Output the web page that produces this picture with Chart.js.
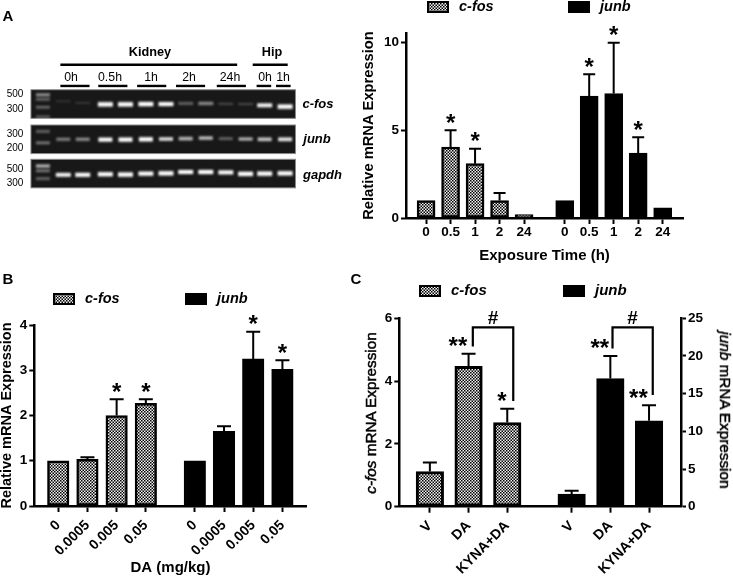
<!DOCTYPE html>
<html>
<head>
<meta charset="utf-8">
<title>c-fos and junb expression</title>
<script src="https://cdn.jsdelivr.net/npm/chart.js@4"></script>
<style>
    html, body { margin: 0; padding: 0; background: #fff; }
    #page { position: relative; width: 733px; height: 576px; overflow: hidden; font-family: "Liberation Sans", Arial, sans-serif; color: #000; filter: blur(0.35px); }
    canvas { position: absolute; }
    .lbl { position: absolute; white-space: nowrap; transform: translate(-50%, -50%); }
</style>
</head>
<body>
<div id="page">
    <canvas id="gel" width="350" height="210" style="left:0;top:0"></canvas>
    <canvas id="chartA" width="383" height="270" style="left:350px;top:0"></canvas>
    <canvas id="chartB" width="350" height="306" style="left:0;top:270px"></canvas>
    <canvas id="chartC" width="383" height="306" style="left:350px;top:270px"></canvas>
</div>
<script>
/* ---------------- PANEL A DATA ---------------- */
const timeLabels = ["0", "0.5", "1", "2", "24"];
const aCfos = [1, 4.05, 3.1, 1, 0.2];
const aCfosTop = [null, 5, 3.95, 1.42, null];
const aCfosStars = ["", "*", "*", "", ""];
const aJunb = [1, 6.95, 7.1, 3.7, 0.58];
const aJunbTop = [null, 8.2, 10, 4.6, null];
const aJunbStars = ["", "*", "*", "*", ""];

/* ---------------- PANEL B DATA ---------------- */
const doseLabels = ["0", "0.0005", "0.005", "0.05"];
const bCfos = [1, 1.03, 2, 2.27];
const bCfosTop = [null, 1.08, 2.36, 2.36];
const bCfosStars = ["", "", "*", "*"];
const bJunb = [1, 1.65, 3.25, 3.02];
const bJunbTop = [null, 1.76, 3.85, 3.22];
const bJunbStars = ["", "", "*", "*"];

/* ---------------- PANEL C DATA ---------------- */
const treatLabels = ["V", "DA", "KYNA+DA"];
const cCfos = [1.12, 4.47, 2.68];
const cCfosTop = [1.41, 4.87, 3.12];
const cCfosStars = ["", "**", "*"];
const cJunb = [1.68, 17, 11.4];
const cJunbTop = [2.1, 20, 13.45];
const cJunbStars = ["", "**", "**"];
const cBracketLeft = [[1.11, 5.1], [1.11, 5.71], [2.155, 5.71], [2.155, 3.37]];
const cBracketRight = [[4.72, 5.04], [4.72, 5.71], [5.76, 5.71], [5.76, 3.56]];

/* ---------------- GEL DATA ---------------- */
const laneX = [60, 80, 103.3, 124, 145, 165.7, 186, 206.7, 227.3, 247.7, 267.3, 288.3];
const cfosBandY = [101, 102.7, 104.3, 104.3, 104, 104, 103.3, 103.3, 103.7, 104, 105.3, 106.7];
const cfosBright = [0.12, 0.14, 1, 1, 1, 0.9, 0.35, 0.5, 0.2, 0.2, 0.85, 1];
const junbBandY = [141, 141, 141.3, 141.3, 141, 140.7, 140.3, 139.7, 140.3, 140.7, 141, 141];
const junbBright = [0.45, 0.5, 0.9, 0.95, 0.95, 0.75, 0.65, 0.65, 0.35, 0.6, 0.7, 0.8];
const gapdhBandY = [178.3, 178.3, 177.7, 178, 177, 176.7, 175.3, 175.3, 175.7, 177.3, 177, 176.7];
const gapdhBright = [0.85, 0.9, 0.95, 1, 0.95, 1, 0.9, 0.95, 0.9, 1, 1, 1];
const ladderY = [94.3, 99, 107.3, 117.3, 132.7, 144.7, 169, 174, 182.3];
const ladderBright = [0.5, 0.35, 0.35, 0.3, 0.35, 0.4, 0.6, 0.4, 0.35];
const gelStrips = [[89, 119], [126, 156], [162, 192]];
const gelLines = [[57, 239, 62.7], [255, 291, 62.7], [57, 87, 85], [96, 126, 85], [136, 166, 85],
    [176, 206, 85], [218, 248, 85], [259, 274, 85], [279, 294, 85]];

const fontFamily = '"Liberation Sans", Arial, sans-serif';

function makeChecker() {
    const c = document.createElement("canvas");
    c.width = 3;
    c.height = 3;
    const g = c.getContext("2d");
    g.fillStyle = "#f2f2f2";
    g.fillRect(0, 0, 3, 3);
    g.fillStyle = "#000";
    g.fillRect(0, 0, 1.5, 1.5);
    g.fillRect(1.5, 1.5, 1.5, 1.5);
    return g.createPattern(c, "repeat");
}
const checker = makeChecker();

/* ---------------- BAR PANELS ---------------- */
function panelChart(id, cfg) {
    const n = cfg.labels.length;
    const first = cfg.labels.map((_, i) => i);
    const second = cfg.labels.map((_, i) => i + n + cfg.gap);
    const tickLabels = cfg.labels.concat(cfg.labels);
    const tickValues = first.concat(second);
    const toPoints = (xs, ys) => xs.map((x, i) => ({x: x, y: ys[i]}));
    const junbAxis = cfg.y2 ? "y2" : "y";

    const yAxis = (opt, width, position) => ({
        type: "linear",
        position: position,
        min: 0,
        max: opt.max,
        afterFit: s => { s.width = width; },
        border: {color: "#000", width: 2.5},
        grid: {drawOnChartArea: false, color: "#000", tickLength: 5, tickWidth: 2},
        ticks: {stepSize: opt.step, includeBounds: false, padding: 2, color: "#000", font: {family: fontFamily, size: 13.5, weight: "bold"}}
    });

    const scales = {
        x: {
            type: "linear",
            offset: false,
            min: cfg.xMin,
            max: cfg.xMax,
            afterBuildTicks: axis => { axis.ticks = tickValues.map(v => ({value: v})); },
            afterFit: s => { s.height = cfg.xHeight; },
            border: {color: "#000", width: 2.5},
            grid: {offset: false, drawOnChartArea: false, color: "#000", tickLength: 6, tickWidth: 2},
            ticks: {
                autoSkip: false,
                minRotation: cfg.rotate,
                maxRotation: cfg.rotate,
                padding: cfg.tickPad,
                color: "#000",
                font: {family: fontFamily, size: cfg.xTickSize, weight: "bold"},
                callback: (value, index) => tickLabels[index]
            },
            title: {
                display: true,
                text: cfg.xTitle,
                color: "#000",
                padding: cfg.xTitlePad,
                font: {family: fontFamily, size: 15, weight: "bold", lineHeight: 1}
            }
        },
        y: yAxis(cfg.y, cfg.left, "left")
    };
    if (cfg.yTitle) {
        scales.y.title = {
            display: true,
            text: cfg.yTitle,
            color: "#000",
            padding: cfg.yTitlePad,
            font: {family: fontFamily, size: cfg.yTitleSize, weight: "bold", lineHeight: 1}
        };
    }
    if (cfg.y2) {
        scales.y2 = yAxis(cfg.y2, cfg.rightWidth, "right");
    }

    const decor = {
        id: "decor",
        beforeDatasetsDraw(chart) {
            const g = chart.ctx;
            g.save();
            g.strokeStyle = "#000";
            g.fillStyle = "#000";
            g.lineWidth = 2;
            chart.data.datasets.forEach(ds => {
                const yScale = chart.scales[ds.yAxisID];
                ds.data.forEach((p, i) => {
                    if (ds.tops[i] === null) return;
                    const px = chart.scales.x.getPixelForValue(p.x);
                    const top = yScale.getPixelForValue(ds.tops[i]);
                    g.beginPath();
                    g.moveTo(px, yScale.getPixelForValue(p.y));
                    g.lineTo(px, top);
                    g.moveTo(px - cfg.cap / 2, top);
                    g.lineTo(px + cfg.cap / 2, top);
                    g.stroke();
                });
            });
            g.restore();
        },
        afterDatasetsDraw(chart) {
            const g = chart.ctx;
            g.save();
            g.fillStyle = "#000";
            g.textAlign = "center";
            g.textBaseline = "alphabetic";
            g.font = "bold 24px " + fontFamily;
            chart.data.datasets.forEach(ds => {
                const yScale = chart.scales[ds.yAxisID];
                ds.data.forEach((p, i) => {
                    if (!ds.stars[i]) return;
                    const px = chart.scales.x.getPixelForValue(p.x);
                    const top = yScale.getPixelForValue(ds.tops[i]);
                    g.fillText(ds.stars[i], px + cfg.starShift * ds.stars[i].length, top + 0.5);
                });
            });

            /* brackets with the # mark */
            (cfg.brackets || []).forEach(path => {
                g.strokeStyle = "#000";
                g.lineWidth = 2.2;
                g.beginPath();
                path.forEach((p, i) => {
                    const px = chart.scales.x.getPixelForValue(p[0]);
                    const py = chart.scales.y.getPixelForValue(p[1]);
                    if (i === 0) g.moveTo(px, py); else g.lineTo(px, py);
                });
                g.stroke();
                const midX = chart.scales.x.getPixelForValue((path[1][0] + path[2][0]) / 2);
                g.font = "bold 19px " + fontFamily;
                g.textBaseline = "middle";
                g.fillText("#", midX, chart.scales.y.getPixelForValue(path[1][1]) - 9);
            });

            /* legend */
            g.textAlign = "left";
            g.textBaseline = "middle";
            g.font = "italic bold " + cfg.legendFont + "px " + fontFamily;
            chart.data.datasets.forEach((ds, i) => {
                const sx = cfg.legendX[i];
                g.fillStyle = ds.backgroundColor;
                g.fillRect(sx, cfg.legendY, 22, 12);
                g.strokeStyle = "#000";
                g.lineWidth = 2;
                g.strokeRect(sx + 1, cfg.legendY + 1, 20, 10);
                g.fillStyle = "#000";
                g.fillText(ds.label, sx + 32, cfg.legendY + 6);
            });
            g.restore();
        }
    };

    return new Chart(document.getElementById(id), {
        type: "bar",
        data: {
            datasets: [
                {label: "c-fos", data: toPoints(first, cfg.cfos), tops: cfg.cfosTop, stars: cfg.cfosStars, yAxisID: "y", backgroundColor: checker},
                {label: "junb", data: toPoints(second, cfg.junb), tops: cfg.junbTop, stars: cfg.junbStars, yAxisID: junbAxis, backgroundColor: "#000"}
            ]
        },
        options: {
            responsive: false,
            animation: false,
            devicePixelRatio: 1,
            layout: {padding: {left: 0, top: cfg.top, right: cfg.right, bottom: 0}},
            plugins: {legend: {display: false}, tooltip: {enabled: false}},
            datasets: {bar: {grouped: false, barThickness: cfg.barWidth, borderColor: "#000", borderWidth: cfg.border, borderSkipped: false}},
            scales: scales
        },
        plugins: [decor]
    });
}

panelChart("chartA", {
    labels: timeLabels, cfos: aCfos, cfosTop: aCfosTop, cfosStars: aCfosStars,
    junb: aJunb, junbTop: aJunbTop, junbStars: aJunbStars,
    gap: 0.66, xMin: -0.82, xMax: 10.49, y: {max: 10.55, step: 5},
    left: 56, top: 33, right: 50, xHeight: 52, rotate: 0, tickPad: 0, xTickSize: 13.5,
    xTitle: "Exposure Time (h)", xTitlePad: {top: 0, bottom: 7},
    yTitle: "Relative mRNA Expression", yTitleSize: 14.7, yTitlePad: {top: 12, bottom: 0},
    barWidth: 18, border: 2.5, cap: 12, starShift: 0,
    legendX: [77, 218], legendY: 1, legendFont: 14.5
});

panelChart("chartB", {
    labels: doseLabels, cfos: bCfos, cfosTop: bCfosTop, cfosStars: bCfosStars,
    junb: bJunb, junbTop: bJunbTop, junbStars: bJunbStars,
    gap: 0.678, xMin: -0.82, xMax: 8.51, y: {max: 4, step: 1},
    left: 34.3, top: 55, right: 43.3, xHeight: 70, rotate: 45, tickPad: 5, xTickSize: 14,
    xTitle: "DA (mg/kg)", xTitlePad: {top: 0, bottom: 1},
    yTitle: "Relative mRNA Expression", yTitleSize: 14.5, yTitlePad: {top: 0, bottom: 0},
    barWidth: 21.5, border: 2.5, cap: 14, starShift: 0,
    legendX: [53, 185], legendY: 23, legendFont: 14.5
});

panelChart("chartC", {
    labels: treatLabels, cfos: cCfos, cfosTop: cCfosTop, cfosStars: cCfosStars,
    junb: cJunb, junbTop: cJunbTop, junbStars: cJunbStars,
    gap: 0.664, xMin: -0.79, xMax: 6.49, y: {max: 6, step: 2}, y2: {max: 25, step: 5},
    left: 49.3, rightWidth: 52, top: 48.3, right: 0, xHeight: 69.3, rotate: 45, tickPad: 5, xTickSize: 14,
    xTitle: "", xTitlePad: 0,
    barWidth: 27.5, border: 3, cap: 14, starShift: -5.3,
    brackets: [cBracketLeft, cBracketRight],
    legendX: [69, 213], legendY: 15, legendFont: 15
});

/* ---------------- GEL PHOTO ---------------- */
function bandSprite(bright, width) {
    const c = document.createElement("canvas");
    c.width = width + 8;
    c.height = 14;
    const g = c.getContext("2d");
    const h = 1.5 + 3 * bright;
    g.filter = "blur(0.9px)";
    g.fillStyle = "rgba(255,255,255," + Math.min(1, bright * 1.1) + ")";
    g.fillRect(4, 7 - h / 2, width, h);
    return c;
}

function bandSet(xs, ys, brights, width) {
    const sprites = brights.map(b => bandSprite(b, width));
    return {
        data: xs.map((x, i) => ({x: x, y: ys[i]})),
        pointStyle: ctx => sprites[ctx.dataIndex],
        pointRadius: 3,
        showLine: false
    };
}

new Chart(document.getElementById("gel"), {
    type: "scatter",
    data: {
        datasets: [
            bandSet(laneX, cfosBandY, cfosBright, 15),
            bandSet(laneX, junbBandY, junbBright, 14),
            bandSet(laneX, gapdhBandY, gapdhBright, 15),
            bandSet(ladderY.map(() => 39), ladderY, ladderBright, 14)
        ].concat(gelLines.map(l => ({
            data: [{x: l[0], y: l[2]}, {x: l[1], y: l[2]}],
            showLine: true,
            borderColor: "#000",
            borderWidth: 2.4,
            pointRadius: 0
        })))
    },
    options: {
        responsive: false,
        animation: false,
        devicePixelRatio: 1,
        plugins: {legend: {display: false}, tooltip: {enabled: false}},
        scales: {
            x: {type: "linear", display: false, min: 0, max: 350},
            y: {type: "linear", display: false, min: 0, max: 210, reverse: true}
        }
    },
    plugins: [{
        id: "strips",
        beforeDatasetsDraw(chart) {
            const g = chart.ctx;
            const sx = chart.scales.x;
            const sy = chart.scales.y;
            gelStrips.forEach(s => {
                const x0 = sx.getPixelForValue(26.7);
                const x1 = sx.getPixelForValue(299);
                const y0 = sy.getPixelForValue(s[0]);
                const y1 = sy.getPixelForValue(s[1]);
                g.fillStyle = "#181818";
                g.fillRect(x0, y0, x1 - x0, y1 - y0);
                g.strokeStyle = "#8a8a8a";
                g.lineWidth = 1;
                g.strokeRect(x0, y0, x1 - x0, y1 - y0);
            });
        }
    }]
});

/* ---------------- TEXT AROUND THE PANELS ---------------- */
function label(html, x, y, css, rotate) {
    const d = document.createElement("div");
    d.className = "lbl";
    d.innerHTML = html;
    d.style.cssText = "left:" + x + "px;top:" + y + "px;" + css;
    if (rotate) d.style.transform = "translate(-50%, -50%) rotate(" + rotate + "deg)";
    document.getElementById("page").appendChild(d);
}

label("A", 8, 15, "font:bold 15px " + fontFamily);
label("B", 8, 278, "font:bold 15px " + fontFamily);
label("C", 356, 278, "font:bold 15px " + fontFamily);

label("Kidney", 150, 52, "font:bold 12.7px " + fontFamily);
label("Hip", 272, 52, "font:bold 12.7px " + fontFamily);
[["0h", 71], ["0.5h", 110], ["1h", 151], ["2h", 189], ["24h", 230], ["0h", 265], ["1h", 283]].forEach(t => {
    label(t[0], t[1], 77, "font:12.3px " + fontFamily);
});
[["500", 93], ["300", 107.5], ["300", 133], ["200", 147], ["500", 168], ["300", 182]].forEach(t => {
    label(t[0], 15, t[1], "font:10px " + fontFamily);
});
label("c-fos", 318, 102.5, "font:italic bold 13px " + fontFamily);
label("junb", 317, 138, "font:italic bold 13px " + fontFamily);
label("gapdh", 322.5, 173.5, "font:italic bold 13px " + fontFamily);

const sideTitle = "font:15.3px " + fontFamily + ";-webkit-text-stroke:0.5px #000";
label("<i>c-fos</i> mRNA Expression", 370.7, 412.5, sideTitle, -90);
label("<i>junb</i> mRNA Expression", 725, 410, sideTitle, 90);
</script>
</body>
</html>
